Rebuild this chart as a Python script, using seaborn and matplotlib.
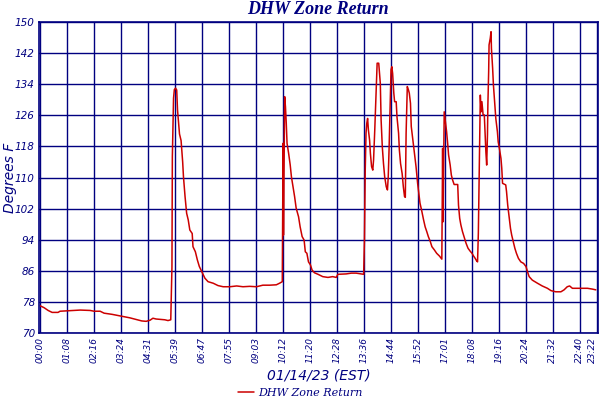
import numpy as np
import pandas as pd
import seaborn as sns
import matplotlib
matplotlib.use("Agg")
import matplotlib.pyplot as plt

# minutes after midnight, 01/14/23
minutes = [
    0, 10, 20, 30, 45, 50, 68, 101, 126, 136, 151, 161, 181, 196, 211, 226,
    241, 256, 267, 277, 284, 292, 314, 322, 329,
    332, 333, 336, 338, 341, 344, 346, 348, 351, 355, 359, 361, 365, 369,
    373, 377, 383, 385, 391, 396, 401, 407, 415, 423, 436, 448, 461, 478,
    495, 511, 528, 545, 561, 578, 595, 603, 610,
    612, 613, 616, 618, 620, 622, 626, 630, 633, 637, 641, 645, 651, 655,
    660, 665, 668, 672, 676, 681, 685, 691, 700, 712, 725, 737, 746, 750,
    771, 784, 796, 815,
    817, 819, 821, 823, 825, 827, 830, 832, 835, 838, 840, 843, 847, 849,
    853, 857, 859, 862, 865, 868, 872, 875, 877, 879, 882, 884, 886, 888,
    891, 893, 897, 899, 903, 905, 908, 912, 915, 918, 920, 922, 925, 928,
    930, 933, 935, 939, 943, 947, 951, 954, 957, 961, 966, 970, 974, 978,
    983, 987, 993, 999, 1006, 1012,
    1014, 1015, 1018, 1021, 1024, 1027, 1029, 1033, 1036, 1039, 1043, 1052,
    1054, 1057, 1060, 1064, 1069, 1073, 1078, 1083, 1088, 1092, 1096, 1100,
    1102, 1104, 1106, 1108, 1109, 1111, 1113, 1116, 1119, 1122, 1123, 1125,
    1127, 1128, 1130, 1131, 1134, 1136, 1137, 1140, 1142, 1145, 1148, 1152,
    1154, 1157, 1161, 1163, 1165, 1173, 1175, 1178, 1182, 1185, 1188, 1192,
    1196, 1200, 1205, 1211, 1218, 1224, 1229, 1232, 1240, 1253, 1265, 1278,
    1287, 1299, 1312, 1320, 1328, 1334, 1341, 1358, 1379, 1391, 1400,
]
temps = [
    77.0, 76.5, 75.8, 75.3, 75.3, 75.6, 75.7, 75.9, 75.8, 75.6, 75.6, 75.1,
    74.8, 74.5, 74.2, 73.9, 73.5, 73.1, 73.0, 73.3, 73.8, 73.6, 73.4, 73.2,
    73.4,
    87.0, 115.3, 130.4, 132.6, 133.0, 132.5, 127.4, 124.8, 121.2, 119.5,
    114.0, 110.2, 105.1, 100.8, 99.1, 96.5, 95.6, 92.2, 90.9, 88.8, 87.1,
    85.8, 84.1, 83.2, 82.8, 82.2, 81.9, 81.9, 82.1, 81.9, 82.0, 81.9, 82.3,
    82.3, 82.4, 82.8, 83.2,
    118.8, 95.2, 130.8, 128.2, 124.0, 118.8, 116.2, 113.2, 110.2, 107.6,
    105.1, 102.1, 99.9, 97.3, 94.8, 93.9, 90.9, 90.5, 88.3, 87.5, 86.2,
    85.5, 85.1, 84.5, 84.3, 84.5, 84.3, 85.1, 85.2, 85.4, 85.4, 85.1,
    93.9, 111.9, 121.4, 124.0, 125.2, 122.2, 119.6, 116.2, 112.8, 111.9,
    114.5, 122.2, 134.2, 139.4, 139.4, 134.2, 124.8, 117.9, 113.6, 110.2,
    107.6, 106.8, 110.2, 117.1, 129.9, 137.7, 138.5, 136.8, 131.7, 129.5,
    129.5, 125.6, 121.4, 117.1, 113.6, 111.0, 107.6, 105.1, 104.9, 121.4,
    133.4, 132.5, 131.7, 129.1, 123.1, 119.6, 116.2, 112.8, 108.5, 105.9,
    103.4, 101.6, 99.1, 97.3, 96.1, 94.8, 93.5, 92.2, 91.4, 90.5, 89.8,
    89.0,
    117.5, 98.6, 126.9, 124.4, 121.8, 118.4, 115.8, 113.2, 110.6, 109.4,
    108.2, 108.2, 102.9, 99.5, 97.8, 96.1, 94.4, 93.1, 91.8, 91.1, 90.5,
    89.8, 89.2, 88.5,
    88.3, 95.6, 109.8, 124.0, 131.2, 126.9, 129.5, 126.1, 126.1, 119.2,
    116.6, 113.2, 121.0, 128.6, 137.2, 144.1, 145.8, 147.5, 143.2, 138.1,
    133.8, 129.5, 125.2, 121.8, 119.2, 117.5, 114.9, 112.4, 108.5, 108.1,
    106.4, 102.9, 99.5, 96.9, 95.2, 93.5, 91.8, 90.5, 89.2, 88.3, 87.9,
    87.1, 85.4, 84.5, 83.6, 82.8, 82.1, 81.5, 80.9, 80.6, 80.6, 81.1, 81.9,
    82.1, 81.5, 81.5, 81.5, 81.3, 81.1,
]

tick_labels = ["00:00", "01:08", "02:16", "03:24", "04:31", "05:39", "06:47",
               "07:55", "09:03", "10:12", "11:20", "12:28", "13:36", "14:44",
               "15:52", "17:01", "18:08", "19:16", "20:24", "21:32", "22:40",
               "23:22"]
y_ticks = list(range(70, 151, 8))

NAVY = "#000080"
RED = "#cc0000"

df = pd.DataFrame({"minute": minutes, "temp": temps})
tick_pos = [int(t[:2]) * 60 + int(t[3:]) for t in tick_labels]

sns.set_style("white")
plt.rcParams["font.family"] = ["DejaVu Sans"]

fig = plt.figure(figsize=(6, 4), dpi=100)
ax = fig.add_axes([0.065, 0.1675, 0.932, 0.7775])

sns.lineplot(data=df, x="minute", y="temp", ax=ax, color=RED, linewidth=1.1,
             estimator=None, sort=False, label="DHW Zone Return", legend=False)

ax.set_xlim(-3, 1406)
ax.set_ylim(70, 150)
ax.set_xticks(tick_pos)
ax.set_xticklabels(tick_labels, rotation=90, fontsize=6.5, fontstyle="italic", color=NAVY)
ax.get_xticklabels()[-1].set_horizontalalignment("right")
ax.set_yticks(y_ticks)
ax.set_yticklabels([str(v) for v in y_ticks], fontsize=7.5, fontstyle="italic", color=NAVY)
ax.tick_params(length=0, pad=3)
ax.grid(True, color=NAVY, linewidth=1.0)
for s in ax.spines.values():
    s.set_color(NAVY)
    s.set_linewidth(1.2)

ax.set_xlabel("01/14/23 (EST)", fontsize=10, fontstyle="italic", color=NAVY, labelpad=4)
ax.set_ylabel("Degrees F", fontsize=10, fontstyle="italic", color=NAVY)
ax.yaxis.set_label_coords(-0.040, 0.5)

fig.text(0.53, 0.977, "DHW Zone Return", ha="center", va="center",
         fontsize=13, fontstyle="italic", fontweight="bold", color=NAVY,
         family="Liberation Serif")

leg = fig.legend(*ax.get_legend_handles_labels(), loc="center",
                 bbox_to_anchor=(0.5, 0.018), frameon=False, handlelength=1.5,
                 handletextpad=0.3, prop={"family": "DejaVu Serif", "style": "italic", "size": 8})
for t in leg.get_texts():
    t.set_color(NAVY)

fig.savefig("out.png", dpi=100)
